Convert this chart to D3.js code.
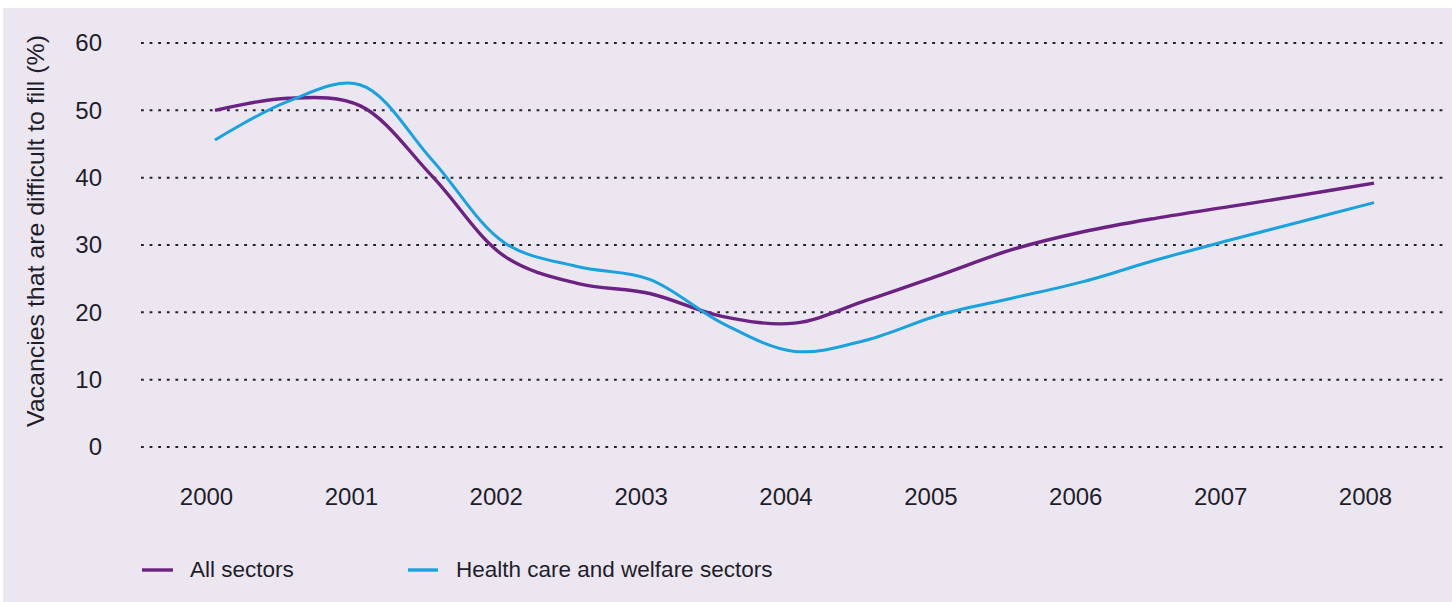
<!DOCTYPE html>
<html>
<head>
<meta charset="utf-8">
<script src="https://cdn.jsdelivr.net/npm/d3@7"></script>
<style>
  html, body { margin: 0; padding: 0; background: #ffffff; }
  svg { display: block; font-family: "Liberation Sans", Arial, sans-serif; }
</style>
</head>
<body>
<svg id="chart" width="1452" height="602"></svg>
<script>
// Half-yearly observations, 2000–2008
const periods = [2000, 2000.5, 2001, 2001.5, 2002, 2002.5, 2003, 2003.5, 2004,
                 2004.5, 2005, 2005.5, 2006, 2006.5, 2007, 2007.5, 2008];
const allSectors = [50.0, 51.8, 50.7, 40.2, 28.3, 24.3, 22.8, 19.4, 18.4,
                    21.8, 25.5, 29.3, 32.0, 34.0, 35.7, 37.4, 39.2];
const healthWelfare = [45.6, 51.3, 53.8, 42.6, 30.3, 26.8, 24.9, 18.4, 14.2,
                       15.9, 19.6, 22.1, 24.6, 27.8, 30.7, 33.5, 36.3];
const yearTicks = [2000, 2001, 2002, 2003, 2004, 2005, 2006, 2007, 2008];
const valueTicks = [0, 10, 20, 30, 40, 50, 60];
const yTitle = "Vacancies that are difficult to fill (%)";
const seriesNames = ["All sectors", "Health care and welfare sectors"];
const seriesColors = ["#6b2282", "#18a2e0"];

const svg = d3.select("#chart");
const textColor = "#1e1e2a";

// panel background
svg.append("rect")
  .attr("x", 3).attr("y", 8)
  .attr("width", 1449).attr("height", 594)
  .attr("fill", "#ece6f1");

const x = d3.scaleLinear().domain([2000, 2008]).range([215, 1374]);
const y = d3.scaleLinear().domain([0, 60]).range([447, 43]);

// dotted horizontal gridlines
svg.append("g")
  .selectAll("line")
  .data(valueTicks)
  .join("line")
  .attr("x1", 141).attr("x2", 1443)
  .attr("y1", d => y(d)).attr("y2", d => y(d))
  .attr("stroke", "#222228")
  .attr("stroke-width", 2)
  .attr("stroke-dasharray", "2.8,5.8");

// value axis labels
const yAxis = d3.axisLeft(y).tickValues(valueTicks).tickSize(0).tickPadding(0);
const yG = svg.append("g").attr("transform", "translate(102,0)").call(yAxis);
yG.select(".domain").remove();
yG.selectAll("text")
  .attr("font-size", 24)
  .attr("fill", textColor)
  .attr("font-family", "Liberation Sans, Arial, sans-serif");

// year axis labels
const xAxis = d3.axisBottom(x).tickValues(yearTicks).tickFormat(d3.format("d")).tickSize(0).tickPadding(0);
const xG = svg.append("g").attr("transform", "translate(-9,488)").call(xAxis);
xG.select(".domain").remove();
xG.selectAll("text")
  .attr("dy", "0.72em")
  .attr("font-size", 24)
  .attr("fill", textColor)
  .attr("font-family", "Liberation Sans, Arial, sans-serif");

// rotated axis title
svg.append("text")
  .attr("transform", "translate(44,231) rotate(-90)")
  .attr("text-anchor", "middle")
  .attr("font-size", 24)
  .attr("textLength", 392)
  .attr("lengthAdjust", "spacingAndGlyphs")
  .attr("fill", textColor)
  .text(yTitle);

// series lines
const line = d3.line()
  .x(d => x(d[0]))
  .y(d => y(d[1]))
  .curve(d3.curveCatmullRom.alpha(0.5));

[allSectors, healthWelfare].forEach((vals, i) => {
  svg.append("path")
    .datum(periods.map((p, j) => [p, vals[j]]))
    .attr("fill", "none")
    .attr("stroke", seriesColors[i])
    .attr("stroke-width", i === 0 ? 3.4 : 3)
    .attr("stroke-linecap", "butt")
    .attr("d", line);
});

// legend
const legendItems = [
  { x1: 142, x2: 173, tx: 190 },
  { x1: 408, x2: 438, tx: 456 }
];
legendItems.forEach((it, i) => {
  svg.append("line")
    .attr("x1", it.x1).attr("x2", it.x2)
    .attr("y1", 570).attr("y2", 570)
    .attr("stroke", seriesColors[i])
    .attr("stroke-width", 3.4);
  svg.append("text")
    .attr("x", it.tx).attr("y", 577)
    .attr("font-size", 22.5)
    .attr("fill", textColor)
    .text(seriesNames[i]);
});
</script>
</body>
</html>
